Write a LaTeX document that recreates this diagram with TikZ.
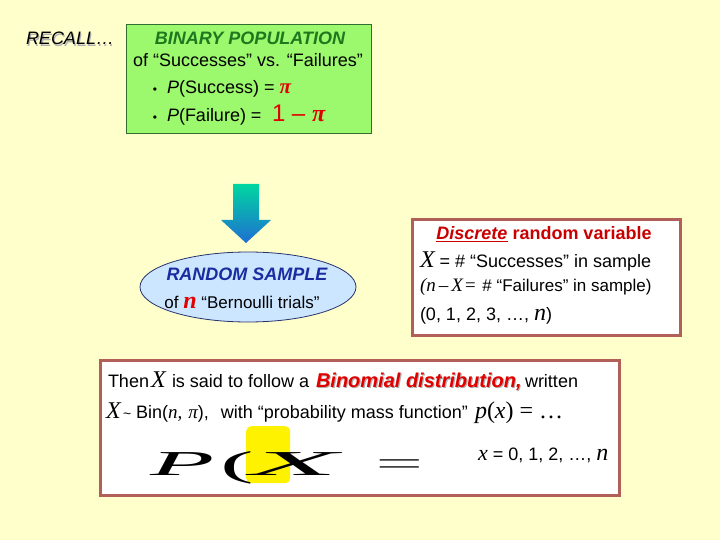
\documentclass[tikz,border=0pt]{standalone}
\usepackage{fontspec}
\usepackage{graphicx}
\setmainfont{Liberation Sans}
\newfontfamily\tms{Liberation Serif}
\usetikzlibrary{shapes.geometric}
\newcommand\myfs[1]{\fontsize{#1}{#1}\selectfont}
\newcommand\mysh[1]{\rlap{\raisebox{-1.2pt}{\kern1.2pt\color{shad}#1}}#1}
\definecolor{bg}{RGB}{255,255,204}
\definecolor{grfill}{RGB}{156,248,108}
\definecolor{grdraw}{RGB}{50,110,50}
\definecolor{grtext}{RGB}{30,120,30}
\definecolor{redt}{RGB}{225,0,0}
\definecolor{darkred}{RGB}{200,0,0}
\definecolor{elfill}{RGB}{204,230,255}
\definecolor{eldraw}{RGB}{40,50,110}
\definecolor{bluet}{RGB}{25,45,160}
\definecolor{boxdraw}{RGB}{176,96,88}
\definecolor{shad}{RGB}{175,175,175}
\definecolor{arrtop}{RGB}{0,214,160}
\definecolor{arrmid}{RGB}{70,195,225}
\definecolor{arrbot}{RGB}{30,110,210}
\begin{document}
\begin{tikzpicture}[x=1pt,y=-1pt,
  t/.style={inner sep=0pt,outer sep=0pt,anchor=base west,font=\myfs{18}},
  tc/.style={inner sep=0pt,outer sep=0pt,anchor=base,font=\myfs{18}},
  frame/.style={draw=boxdraw,line width=3pt,fill=white,anchor=north west,inner sep=0pt}]
\fill[bg] (0,0) rectangle (720,540);
\useasboundingbox (0,0) rectangle (720,540);

% RECALL
\node[t] (recall) at (26,45) {\itshape\mysh{RECALL…}};

% green box
\node[draw=grdraw,fill=grfill,line width=1pt,minimum width=245pt,minimum height=109pt,anchor=north west,inner sep=0pt] (green) at (126,24) {};
\node[tc,text=grtext] (binpop) at (250,45) {\bfseries\itshape BINARY POPULATION};
\node[tc] (succfail) at (248,67) {of “Successes” vs. “Failures”};
\node[tc] (b1) at (155,94) {\myfs{12}•};
\node[t] (ps) at (167,94) {\textit{P}(Success) = {\color{redt}\tms\bfseries\itshape\myfs{21}π}};
\node[tc] (b2) at (155,122) {\myfs{12}•};
\node[t] (pf) at (167,122) {\textit{P}(Failure) =};
\node[t,text=redt] (onepi) at (272,122) {\myfs{24}1 – {\tms\bfseries\itshape π}};

% arrow
\shade[top color=arrtop,middle color=arrmid,bottom color=arrbot]
  (233,184) -- (259,184) -- (259,220) -- (271,220) -- (246,243) -- (221,220) -- (233,220) -- cycle;

% ellipse
\node[ellipse,draw=eldraw,fill=elfill,line width=0.8pt,minimum width=216pt,minimum height=70pt,inner sep=0pt] (sample) at (248,287) {};
\node[tc,text=bluet] (rs) at (247,280) {\bfseries\itshape RANDOM SAMPLE};
\node[tc] (bern) at (242,308) {\myfs{17}of {\color{redt}\tms\bfseries\itshape\myfs{24}n} “Bernoulli trials”};

% random variable box
\node[frame,minimum width=268pt,minimum height=116pt] (rv) at (411,218) {};
\node[tc,text=darkred] (disc) at (544,240) {\bfseries\underline{\itshape Discrete} random variable};
\node[t] (xs) at (420,267) {{\tms\itshape\myfs{24}X} = \# “Successes” in sample};
\node[t] (nx) at (420,291) {{\tms\itshape\myfs{19}(n\kern3pt–\kern3pt X\kern1pt=}\kern1pt{\myfs{17} \# “Failures” in sample)}};
\node[t] (range) at (420,320) {(0, 1, 2, 3, …, {\tms\itshape\myfs{24}n})};

% binomial box
\node[frame,minimum width=519pt,minimum height=135pt] (binbox) at (99,359) {};
\node[t] (then) at (108,387) {Then};
\node[t] (x1) at (151,387) {\tms\itshape\myfs{24}X};
\node[t] (said) at (172,387) {is said to follow a};
\node[t,text=redt] (binom) at (316,387) {\myfs{20}\bfseries\itshape\mysh{Binomial distribution,}};
\node[t] (written) at (525,387) {written};

\node[t] (x2) at (106,418) {\tms\itshape\myfs{24}X};
\node[t] (bin) at (123,418) {{\myfs{14}\textasciitilde} Bin({\tms\itshape\myfs{19}n,\kern6pt π}),};
\node[t,anchor=base east] (with) at (468,418) {with “probability mass function”};
\node[t] (px) at (475,418) {\tms\myfs{24}\textit{p}(\textit{x}) = …};

\node[t] (xr) at (478,460) {{\tms\itshape\myfs{22}x} = 0, 1, 2, …, {\tms\itshape\myfs{24}n}};

\node[fill=yellow,rounded corners=5pt,minimum width=44pt,minimum height=57pt,anchor=north west,inner sep=0pt] (hl) at (246,426) {};
\node[t] (bigP) at (150,475) {\tms\itshape\myfs{35}\scalebox{3}[1]{P}};
\node[t] (paren) at (220,476) {\tms\myfs{36}\scalebox{2.8}[1]{(}};
\node[t] (bigX) at (250,475) {\tms\itshape\myfs{35}\scalebox{4.1}[1]{X}};
\node[t,text=black!75] (eq) at (375.5,475) {\tms\myfs{35}\scalebox{2.4}[1]{=}};
\end{tikzpicture}
\end{document}
